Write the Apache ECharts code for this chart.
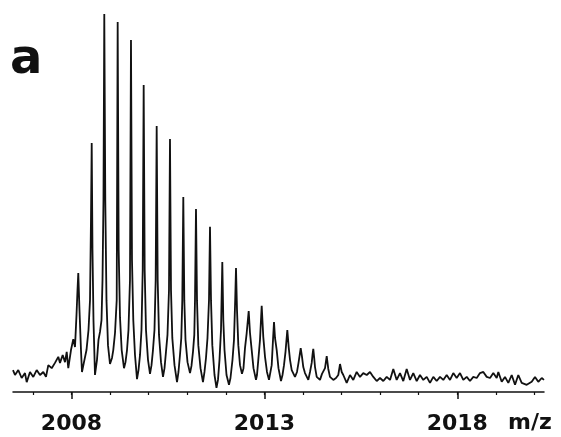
<!DOCTYPE html>
<html>
<head>
<meta charset="utf-8">
<script src="https://cdn.jsdelivr.net/npm/echarts@6/dist/echarts.min.js"></script>
<style>html,body{margin:0;padding:0;background:#fff}#c{width:561px;height:437px}</style>
</head>
<body>
<div id="c"></div>
<script>
// m/z values of the traced spectrum points
const mz = [
2006.484,2006.536,2006.621,2006.709,2006.795,2006.839,2006.924,2007.010,2007.098,2007.184,
2007.269,2007.339,2007.399,2007.487,2007.572,2007.658,2007.702,2007.772,2007.832,2007.876,
2007.917,2007.987,2008.047,2008.091,
2008.130,2008.156,2008.176,2008.207,2008.246,2008.272,2008.324,2008.389,2008.441,2008.480,2008.505,
2008.524,2008.544,2008.570,2008.609,2008.661,2008.700,2008.739,2008.778,2008.804,2008.829,
2008.850,2008.876,2008.907,2008.946,2008.998,2009.050,2009.083,2009.128,2009.172,
2009.197,2009.223,2009.257,2009.301,2009.361,2009.400,2009.439,2009.477,2009.516,
2009.542,2009.568,2009.602,2009.646,2009.698,2009.737,2009.776,2009.814,2009.846,
2009.871,2009.897,2009.931,2009.983,2010.035,2010.074,2010.112,2010.151,2010.182,
2010.208,2010.234,2010.268,2010.320,2010.372,2010.411,2010.449,2010.488,2010.527,
2010.553,2010.579,2010.613,2010.670,2010.735,2010.773,2010.812,2010.846,2010.872,
2010.898,2010.924,2010.955,2011.007,2011.072,2011.110,2011.149,2011.183,2011.201,
2011.227,2011.253,2011.287,2011.344,2011.408,2011.447,2011.486,2011.525,2011.564,
2011.590,2011.616,2011.650,2011.707,2011.758,2011.797,2011.836,2011.875,
2011.909,2011.935,2011.966,2012.018,2012.082,2012.121,2012.173,2012.212,2012.243,
2012.264,2012.290,2012.324,2012.368,2012.419,2012.458,2012.497,2012.541,
2012.593,2012.627,2012.671,2012.717,2012.782,2012.808,2012.842,2012.886,
2012.930,2012.971,2013.016,2013.067,2013.119,2013.158,2013.189,2013.223,
2013.249,2013.275,2013.319,2013.365,2013.430,2013.469,2013.508,2013.547,
2013.594,2013.632,2013.664,2013.708,2013.793,2013.845,2013.884,2013.915,
2013.941,2013.975,2014.008,2014.052,2014.138,2014.182,2014.226,2014.247,
2014.267,2014.291,2014.312,2014.356,2014.441,2014.493,2014.571,
2014.615,2014.656,2014.700,2014.786,2014.856,2014.915,
2014.960,2015.004,2015.045,2015.133,
2015.219,2015.304,2015.392,2015.478,2015.563,2015.652,2015.737,2015.823,2015.911,2015.996,
2016.082,2016.170,2016.256,2016.341,2016.429,2016.515,2016.600,2016.688,2016.774,2016.859,
2016.948,2017.033,2017.119,2017.207,2017.292,2017.378,2017.466,2017.552,2017.637,2017.725,
2017.811,2017.896,2017.984,2018.070,2018.155,2018.244,2018.329,2018.415,2018.503,2018.588,
2018.674,2018.762,2018.848,2018.933,2019.021,2019.063,2019.151,2019.236,2019.322,2019.410,
2019.496,2019.581,2019.669,2019.799,2019.928,2020.014,2020.099,2020.188,2020.247
];
// relative intensity (%) at each traced point
const intensity = [
5.8,4.5,5.8,3.7,5.0,2.6,5.3,4.0,5.8,4.5,
5.3,4.0,7.1,6.3,7.7,9.3,7.7,9.8,7.9,10.6,
6.3,11.1,14.0,11.9,
20.4,27.0,31.5,21.7,11.1,5.3,7.9,11.1,16.4,24.3,45.5,
65.9,37.6,19.0,4.5,8.5,13.8,15.9,19.0,29.6,50.8,
100.0,50.8,24.3,12.4,7.4,9.0,11.1,15.6,24.3,
97.9,37.6,19.8,11.1,6.3,7.9,11.1,16.4,29.6,
93.1,34.9,19.0,9.8,3.4,5.8,9.8,16.4,32.3,
81.2,32.3,16.4,8.5,4.8,7.1,11.1,16.4,29.6,
70.4,29.6,15.1,7.9,4.0,6.3,10.6,15.1,27.0,
66.9,27.0,14.3,7.1,2.6,5.3,9.8,14.3,24.3,
51.6,24.3,13.8,7.9,5.0,6.9,10.6,15.1,24.3,
48.4,24.3,12.4,6.3,2.6,5.3,9.0,14.3,24.3,
43.7,24.3,12.4,4.5,1.1,3.2,8.5,16.4,
34.4,19.0,11.1,4.5,1.9,3.7,8.5,13.8,24.3,
32.8,21.7,12.4,7.1,4.8,6.3,11.6,15.6,
21.4,15.6,11.1,6.3,3.2,4.5,8.5,13.8,
22.8,14.6,9.3,5.3,3.2,3.7,7.1,13.8,
18.5,14.3,11.1,6.3,2.9,4.5,7.1,10.6,
16.4,11.6,8.5,5.8,4.0,5.3,7.7,9.8,
11.6,9.3,6.6,5.0,3.2,5.3,7.7,9.8,
11.4,9.0,6.6,4.0,3.2,4.8,6.3,
9.5,6.1,4.0,3.2,3.7,4.5,
7.4,5.3,4.5,2.4,
4.5,3.2,5.3,4.0,5.0,4.5,5.3,4.0,2.9,3.7,
2.9,4.0,3.2,6.1,3.2,5.0,2.9,6.1,3.2,5.0,
2.9,4.5,3.2,4.0,2.4,4.0,2.9,4.0,3.2,4.5,
3.2,5.0,3.7,5.0,3.2,4.0,2.9,4.0,3.7,5.0,
5.3,4.0,3.7,5.0,3.7,5.3,2.7,4.0,2.4,4.5,
1.9,4.5,2.4,1.9,2.7,4.0,2.7,3.7,3.2
];
const axisRange = [2006.484, 2020.247];
const tickValues = [2007,2008,2009,2010,2011,2012,2013,2014,2015,2016,2017,2018,2019,2020];
const majorTicks = [2008, 2013, 2018];
const panelLabel = 'a';
const axisName = 'm/z';

const data = mz.map((m, i) => [m, intensity[i]]);
const chart = echarts.init(document.getElementById('c'), null, {renderer: 'canvas'});
const FONT = '"DejaVu Sans", Verdana, sans-serif';
chart.setOption({
  animation: false,
  backgroundColor: '#fff',
  grid: {left: 13, right: 17, top: 14, bottom: 45},
  xAxis: [{
    type: 'value', min: axisRange[0], max: axisRange[1],
    axisLine: {show: true, lineStyle: {color: '#111', width: 1.5}},
    axisTick: {show: true, customValues: tickValues, length: 3, lineStyle: {color: '#111', width: 1.2}},
    axisLabel: {show: true, customValues: majorTicks, margin: 21, color: '#111',
      fontFamily: FONT, fontWeight: 'bold', fontSize: 22,
      formatter: v => String(Math.round(v))},
    splitLine: {show: false}
  }, {
    type: 'value', min: axisRange[0], max: axisRange[1], position: 'bottom',
    axisLine: {show: false},
    axisTick: {show: true, customValues: majorTicks, length: 7, lineStyle: {color: '#111', width: 1.5}},
    axisLabel: {show: false},
    splitLine: {show: false}
  }],
  yAxis: {type: 'value', min: 0, max: 100, show: false},
  graphic: [
    {type: 'text', left: 10, top: 37, style: {text: panelLabel, font: 'bold 48px ' + FONT, fill: '#111'}},
    {type: 'text', left: 508, top: 412, style: {text: axisName, font: 'bold 22px ' + FONT, fill: '#111'}}
  ],
  series: [{
    type: 'line', xAxisIndex: 0, data: data, showSymbol: false, smooth: false,
    lineStyle: {color: '#111', width: 1.8}
  }]
});
</script>
</body>
</html>
